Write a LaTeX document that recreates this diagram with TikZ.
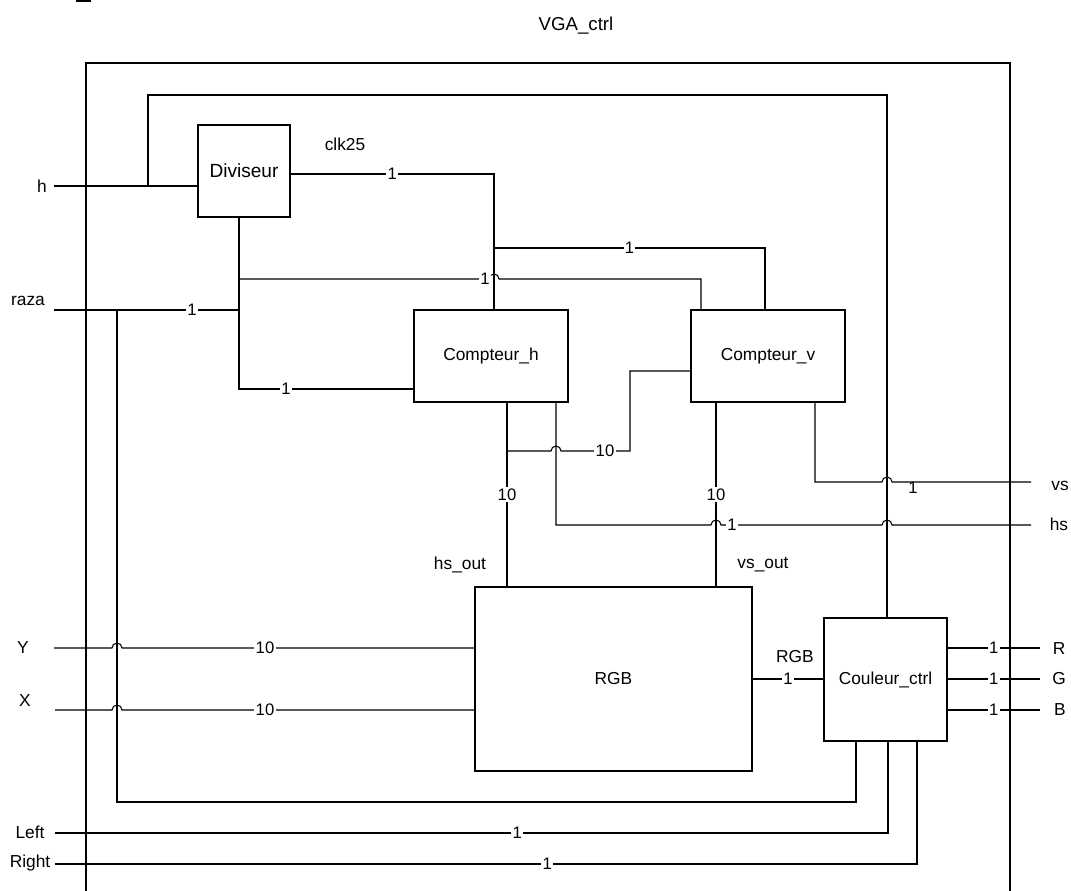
\documentclass[tikz,border=0pt]{standalone}
\usepackage{fontspec}
\setmainfont{Liberation Sans}
\begin{document}
\begin{tikzpicture}[x=0.75pt,y=-0.75pt,line width=0.8pt,
  every node/.style={font=\fontsize{13pt}{15pt}\selectfont, inner sep=1pt},
  block/.style={draw, line width=0.8pt, inner sep=0pt},
  lbl/.style={fill=white, inner sep=1pt, font=\fontsize{12.5pt}{15pt}\selectfont},
  txt/.style={inner sep=0pt},
]
\useasboundingbox (0,0) rectangle (1071,891);
% title and fragment
\node[txt, font=\fontsize{14pt}{16pt}\selectfont] (title) at (576,26) {VGA\_ctrl};
\draw[line width=1.2pt] (76,1) -- (91,1);
% frame
\draw (86,891) -- (86,63) -- (1010,63) -- (1010,891);
% blocks
\node[block, minimum width=69pt, minimum height=69pt, font=\fontsize{14.3pt}{16pt}\selectfont] (div) at (244,171) {Diviseur};
\node[block, minimum width=115.5pt, minimum height=69pt] (ch) at (491,356) {Compteur\_h};
\node[block, minimum width=115.5pt, minimum height=69pt] (cv) at (768,356) {Compteur\_v};
\node[block, minimum width=207.75pt, minimum height=138pt] (rgb) at (613.5,679) {RGB};
\node[block, minimum width=92.25pt, minimum height=92.25pt] (cc) at (885.5,679.5) {Couleur\_ctrl};
% port labels
\node[txt] (lh) at (42,186) {h};
\node[txt] (lraza) at (28,301) {raza};
\node[txt] (lY) at (23,648) {Y};
\node[txt] (lX) at (25,701) {X};
\node[txt] (lLeft) at (30,832) {Left};
\node[txt] (lRight) at (30,863) {Right};
\node[txt] (lvs) at (1060,486) {vs};
\node[txt] (lhs) at (1059,524) {hs};
\node[txt] (lR) at (1059,649) {R};
\node[txt] (lG) at (1059,679) {G};
\node[txt] (lB) at (1060,710) {B};
\node[txt] (lclk) at (345,144) {clk25};
\node[txt] (lhsout) at (460,565) {hs\_out};
\node[txt] (lvsout) at (763,565) {vs\_out};
\node[txt] (lrgb) at (795,657) {RGB};
% coordinates
\coordinate (hin) at (54,186);
\coordinate (razain) at (54,310);
\coordinate (yin) at (54,648);
\coordinate (xin) at (55,710);
\coordinate (leftin) at (55,833);
\coordinate (rightin) at (55,864);
\coordinate (vsend) at (1031,482);
\coordinate (hsend) at (1031,525);
\coordinate (rend) at (1040,648);
\coordinate (gend) at (1040,679);
\coordinate (bend) at (1040,710);
\coordinate (fbtop) at (887,95);
\coordinate (clk) at (494,174);
\coordinate (dx) at (239,389);
% h input and feedback
\draw (hin) -- (div.west |- hin);
\draw (148,186) |- (fbtop) -- (fbtop |- cc.north);
% clk25
\draw (div.east |- clk) -- node[lbl]{1} (clk) -- (clk |- ch.north);
\draw (494,248) -- node[lbl]{1} (765,248) -- (765,248 |- cv.north);
% diviseur south bus
\draw (div.south -| dx) -- (dx) -- node[lbl,pos=0.27]{1} (ch.west |- dx);
\draw (razain) -- node[lbl,pos=0.746]{1} (239,310);
\draw (239,279) -- (489,279) arc[start angle=180,end angle=0,radius=3.75pt] -- (701,279) -- (701,279 |- cv.north);
\node[lbl] at (485,279) {1};
% raza to couleur
\draw (117,310) -- (117,802) -- (856,802) -- (856,802 |- cc.south);
% compteur_v input
\draw (cv.west |- 630,371) -- (630,371) -- (630,451) -- (561,451) arc[start angle=0,end angle=180,radius=3.75pt] -- (507,451);
\node[lbl] at (605,451) {10};
% compteur_h outputs
\draw (507,402 |- ch.south) -- node[lbl]{10} (507,402 |- rgb.north);
\draw (556,402 |- ch.south) -- (556,525) -- (711,525) arc[start angle=180,end angle=0,radius=3.75pt] -- (882,525) arc[start angle=180,end angle=0,radius=3.75pt] -- (hsend);
\node[lbl] at (732,525) {1};
% compteur_v outputs
\draw (716,402 |- cv.south) -- node[lbl]{10} (716,402 |- rgb.north);
\draw (815,402 |- cv.south) -- (815,482) -- (882,482) arc[start angle=180,end angle=0,radius=3.75pt] -- (vsend);
\node[txt, font=\fontsize{12.5pt}{15pt}\selectfont] at (913,488) {1};
% X, Y
\draw (yin) -- (112,648) arc[start angle=180,end angle=0,radius=3.75pt] -- (rgb.west |- yin);
\node[lbl] at (265,648) {10};
\draw (xin) -- (112,710) arc[start angle=180,end angle=0,radius=3.75pt] -- (rgb.west |- xin);
\node[lbl] at (265,710) {10};
% RGB to couleur
\draw (rgb.east) -- node[lbl]{1} (cc.west |- rgb.east);
% outputs R G B
\draw (cc.east |- rend) -- node[lbl]{1} (rend);
\draw (cc.east |- gend) -- node[lbl]{1} (gend);
\draw (cc.east |- bend) -- node[lbl]{1} (bend);
% Left Right
\draw (leftin) -- node[lbl,pos=0.555]{1} (888,833) -- (888,833 |- cc.south);
\draw (rightin) -- node[lbl,pos=0.571]{1} (917,864) -- (917,864 |- cc.south);
\end{tikzpicture}
\end{document}
